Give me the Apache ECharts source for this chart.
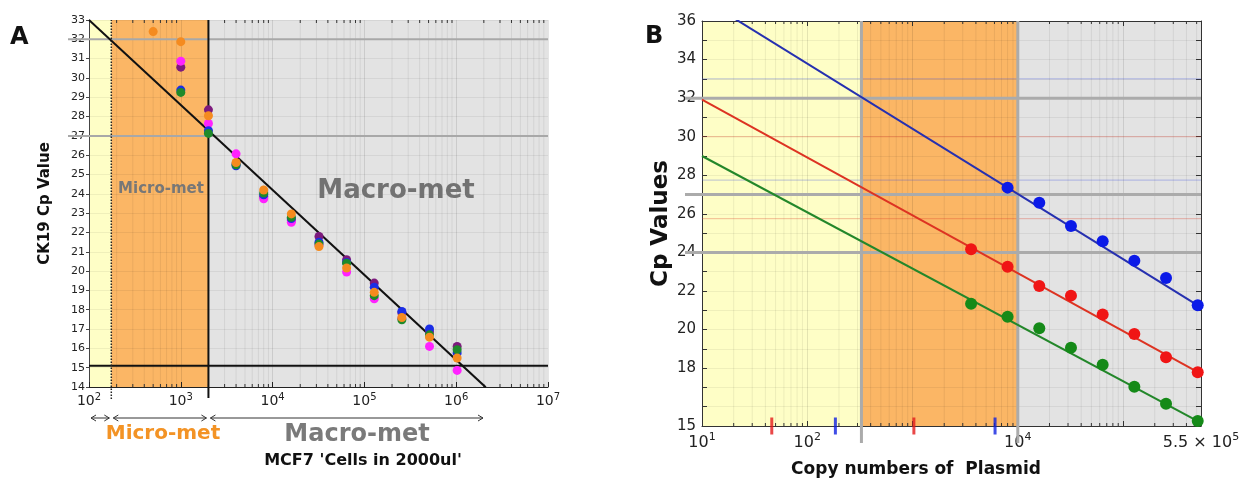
<!DOCTYPE html>
<html>
<head>
<meta charset="utf-8">
<script src="https://cdn.jsdelivr.net/npm/echarts@6/dist/echarts.min.js"></script>
<style>
  html, body { margin: 0; padding: 0; background: #fff; }
  #chart { width: 1244px; height: 482px; }
</style>
</head>
<body>
<div id="chart"></div>
<script>
// ---------- Panel A: CK19 Cp value vs MCF7 cells in 2000 ul ----------
const cellsA    = [500, 1000, 2000, 4000, 8000, 16000, 32000, 64000, 128000, 256000, 512000, 1024000];
const cpPurple  = [null, 30.56, 28.35, 25.55, 23.85, 22.65, 21.79, 20.59, 19.38, 17.85, 16.85, 16.10];
const cpMagenta = [null, 30.87, 27.64, 26.07, 23.74, 22.53, 21.35, 19.95, 18.57, 17.55, 16.10, 14.86];
const cpBlue    = [null, 29.37, 27.27, 25.45, 23.95, 22.72, 21.50, 20.45, 19.17, 17.91, 17.00, 15.76];
const cpGreen   = [null, 29.25, 27.13, 25.50, 24.04, 22.79, 21.40, 20.41, 18.73, 17.48, 16.70, 15.93];
const cpOrange  = [32.40, 31.88, 28.04, 25.62, 24.20, 22.96, 21.27, 20.16, 18.90, 17.60, 16.58, 15.50];

const fitA = { intercept: 41.8, slope: -4.4, from: 100, to: 2.1e6 };   // Cp = a + b*log10(cells)
const zoneEdgesA = [100, 175, 2000, 1e7];                                // yellow | orange | grey
const greyLevelsA = [32, 27];
const blackLevelsA = [15.1];
const dottedCutA = [175];
const solidCutA = [2000];

// ---------- Panel B: Cp values vs plasmid copy numbers ----------
const copiesB   = [3600, 8000, 16000, 32000, 64000, 128000, 256000, 512000];
const cpBlueB   = [null, 27.36, 26.58, 25.37, 24.58, 23.57, 22.68, 21.26];
const cpRedB    = [24.16, 23.26, 22.26, 21.76, 20.78, 19.77, 18.57, 17.79];
const cpGreenB  = [21.34, 20.67, 20.07, 19.06, 18.18, 17.04, 16.15, 15.26];

const fitInterceptB = [40.55, 34.92, 31.92];   // blue, red, green
const fitSlopeB     = [-3.38, -3.00, -2.92];
const zoneEdgesB = [10, 327, 10000, 5.5e5];
const greyLevelsB = [32, 27, 24];
const blueThinB = [33, 27.75];
const redThinB = [30, 25.75];
const greyCutsB = [327, 10000];
const redMarksB = [46, 1030];
const blueMarksB = [185, 6080];
const yLabelsB = [15, 18, 20, 22, 24, 26, 28, 30, 32, 34, 36];
const xLabelsB = [10, 100, 10000, 5.5e5];

const FONT = 'DejaVu Sans';
const zoneColors = ['#fefec6', '#fbb665', '#e3e3e3'];

function zip(xs, ys) {
  const out = [];
  xs.forEach((x, i) => { if (ys[i] != null) out.push([x, ys[i]]); });
  return out;
}
function minorLog(lo, hi) {
  const out = [];
  for (let e = Math.floor(Math.log10(lo)); e <= Math.ceil(Math.log10(hi)); e++) {
    for (let m = 2; m <= 9; m++) {
      const v = m * Math.pow(10, e);
      if (v > lo && v < hi) out.push([v]);
    }
  }
  return out;
}
function fitLine(a, b, x0, x1) {
  return [[x0, a + b * Math.log10(x0)], [x1, a + b * Math.log10(x1)]];
}
function supLabel(v) {
  const e = Math.round(Math.log10(v));
  return '{b|10}{s|' + e + '}';
}

function bands(ax, edges, yr) {
  const data = [];
  for (let i = 0; i < edges.length - 1; i++) data.push([edges[i], edges[i + 1]]);
  return {
    type: 'custom', xAxisIndex: ax, yAxisIndex: ax, z: 0, silent: true, data,
    renderItem: (p, api) => {
      const a = api.coord([api.value(0), yr[1]]);
      const b = api.coord([api.value(1), yr[0]]);
      return { type: 'rect', shape: { x: a[0], y: a[1], width: b[0] - a[0], height: b[1] - a[1] },
               style: { fill: zoneColors[p.dataIndex] } };
    }
  };
}
function vLines(ax, xs, yr, style, extBelow, z, tickLen) {
  return {
    type: 'custom', xAxisIndex: ax, yAxisIndex: ax, z: z, silent: true,
    data: xs.map(v => Array.isArray(v) ? v : [v]),
    renderItem: (p, api) => {
      const a = api.coord([api.value(0), yr[0]]);
      const b = api.coord([api.value(0), yr[1]]);
      const kids = [{ type: 'line', shape: { x1: a[0], y1: a[1] + extBelow, x2: b[0], y2: b[1] }, style: style }];
      if (tickLen) {
        kids.push({ type: 'line', shape: { x1: a[0], y1: a[1], x2: a[0], y2: a[1] - tickLen }, style: { stroke: '#333', lineWidth: 1 } });
        kids.push({ type: 'line', shape: { x1: b[0], y1: b[1], x2: b[0], y2: b[1] + tickLen }, style: { stroke: '#333', lineWidth: 1 } });
      }
      return { type: 'group', children: kids };
    }
  };
}
function hLines(ax, ys, xr, style, extLeft, z) {
  return {
    type: 'custom', xAxisIndex: ax, yAxisIndex: ax, z: z, silent: true,
    data: ys.map(v => [xr[0], v]),
    renderItem: (p, api) => {
      const a = api.coord([xr[0], api.value(1)]);
      const b = api.coord([xr[1], api.value(1)]);
      return { type: 'line', shape: { x1: a[0] - extLeft, y1: a[1], x2: b[0], y2: b[1] }, style: style };
    }
  };
}
function dots(ax, data, color, size, z) {
  return { type: 'scatter', xAxisIndex: ax, yAxisIndex: ax, data, symbolSize: size, z: z || 5,
           itemStyle: { color: color, opacity: 1 }, silent: true, clip: false };
}
function fitSeries(ax, data, color, width) {
  return { type: 'line', xAxisIndex: ax, yAxisIndex: ax, data, showSymbol: false, z: 4, clip: true,
           lineStyle: { color: color, width: width }, silent: true };
}

const yrA = [14, 33], xrA = [100, 1e7];
const yrB = [15, 36], xrB = [10, 5.5e5];

const option = {
  animation: false,
  backgroundColor: '#ffffff',
  textStyle: { fontFamily: FONT },
  grid: [
    { left: 89, top: 20, width: 459, height: 367 },
    { left: 702, top: 21, width: 499, height: 405 }
  ],
  xAxis: [
    { gridIndex: 0, type: 'log', logBase: 10, min: xrA[0], max: xrA[1], z: 1,
      axisLine: { show: true, lineStyle: { color: '#222', width: 1 } },
      axisTick: { show: true, inside: true, length: 5, lineStyle: { color: '#222' } },
      splitLine: { show: true, lineStyle: { color: 'rgba(0,0,0,0.10)', width: 1 } },
      axisLabel: { margin: 5, formatter: supLabel, color: '#222',
        rich: { b: { fontSize: 14, fontFamily: FONT, color: '#222' },
                s: { fontSize: 10, fontFamily: FONT, color: '#222', padding: [0, 0, 9, 0] } } } },
    { gridIndex: 1, type: 'log', logBase: 10, min: xrB[0], max: xrB[1], z: 1,
      axisLine: { show: true, lineStyle: { color: '#333', width: 1 } },
      axisTick: { show: true, inside: true, length: 5, lineStyle: { color: '#333' } },
      splitLine: { show: true, lineStyle: { color: 'rgba(0,0,0,0.10)', width: 1 } },
      axisLabel: { margin: 6, showMaxLabel: true, color: '#222',
        formatter: v => {
          const hit = xLabelsB.find(t => Math.abs(Math.log10(t) - Math.log10(v)) < 0.01);
          if (hit == null) return '';
          if (Math.abs(hit - 5.5e5) < 1) return '{b|5.5 \u00d7 10}{s|5}';
          return supLabel(hit);
        },
        rich: { b: { fontSize: 16, fontFamily: FONT, color: '#222' },
                s: { fontSize: 11, fontFamily: FONT, color: '#222', padding: [0, 0, 10, 0] } } } },
    { gridIndex: 1, type: 'log', logBase: 10, min: xrB[0], max: xrB[1], position: 'top', z: 1,
      axisLine: { show: true, lineStyle: { color: '#333', width: 1 } },
      axisTick: { show: true, inside: true, length: 5, lineStyle: { color: '#333' } },
      axisLabel: { show: false }, splitLine: { show: false } }
  ],
  yAxis: [
    { gridIndex: 0, type: 'value', min: yrA[0], max: yrA[1], interval: 1, z: 1,
      name: 'CK19 Cp Value', nameLocation: 'middle', nameGap: 36,
      nameTextStyle: { fontSize: 15, fontWeight: 'bold', color: '#111', fontFamily: FONT },
      axisLine: { show: true, lineStyle: { color: '#444', width: 1 } },
      axisTick: { show: true, inside: false, length: 3, lineStyle: { color: '#444' } },
      splitLine: { show: true, lineStyle: { color: 'rgba(0,0,0,0.06)', width: 1 } },
      axisLabel: { fontSize: 11, color: '#222', margin: 4 } },
    { gridIndex: 1, type: 'value', min: yrB[0], max: yrB[1], interval: 1, z: 1,
      name: 'Cp Values', nameLocation: 'middle', nameGap: 29,
      nameTextStyle: { fontSize: 23, fontWeight: 'bold', color: '#111', fontFamily: FONT },
      axisLine: { show: true, lineStyle: { color: '#333', width: 1 } },
      axisTick: { show: true, inside: true, length: 5, lineStyle: { color: '#333' } },
      splitLine: { show: true, lineStyle: { color: 'rgba(0,0,0,0.06)', width: 1 } },
      axisLabel: { fontSize: 15, color: '#222', margin: 6,
        formatter: v => (yLabelsB.indexOf(Math.round(v)) >= 0 ? String(Math.round(v)) : '') } },
    { gridIndex: 1, type: 'value', min: yrB[0], max: yrB[1], interval: 1, position: 'right', z: 1,
      axisLine: { show: true, lineStyle: { color: '#333', width: 1 } },
      axisTick: { show: true, inside: true, length: 5, lineStyle: { color: '#333' } },
      axisLabel: { show: false }, splitLine: { show: false } }
  ],
  series: [
    // Panel A
    bands(0, zoneEdgesA, yrA),
    vLines(0, minorLog(xrA[0], xrA[1]), yrA, { stroke: 'rgba(0,0,0,0.07)', lineWidth: 1 }, 0, 1, 3),
    hLines(0, greyLevelsA, xrA, { stroke: '#a8a8a8', lineWidth: 2 }, 21, 2),
    hLines(0, blackLevelsA, xrA, { stroke: '#111', lineWidth: 2 }, 0, 2),
    vLines(0, dottedCutA, yrA, { stroke: '#222', lineWidth: 1.5, lineDash: [1.5, 1.5] }, 12, 2, 0),
    vLines(0, solidCutA, yrA, { stroke: '#111', lineWidth: 2 }, 11, 2, 0),
    fitSeries(0, fitLine(fitA.intercept, fitA.slope, fitA.from, fitA.to), '#111', 2),
    dots(0, zip(cellsA, cpPurple), '#7d1a7d', 9),
    dots(0, zip(cellsA, cpMagenta), '#ff22ff', 9),
    dots(0, zip(cellsA, cpBlue), '#1b2ee6', 9),
    dots(0, zip(cellsA, cpGreen), '#1f8a2a', 9),
    dots(0, zip(cellsA, cpOrange), '#f58b1f', 9),

    // Panel B
    bands(1, zoneEdgesB, yrB),
    vLines(1, minorLog(xrB[0], xrB[1]), yrB, { stroke: 'rgba(0,0,0,0.07)', lineWidth: 1 }, 0, 1, 3),
    hLines(1, blueThinB, xrB, { stroke: 'rgba(60,80,220,0.35)', lineWidth: 1 }, 0, 2),
    hLines(1, redThinB, xrB, { stroke: 'rgba(220,60,40,0.35)', lineWidth: 1 }, 0, 2),
    hLines(1, greyLevelsB, xrB, { stroke: '#ababab', lineWidth: 3 }, 17, 2),
    vLines(1, greyCutsB, yrB, { stroke: '#ababab', lineWidth: 3 }, 17, 2, 0),
    fitSeries(1, fitLine(fitInterceptB[0], fitSlopeB[0], xrB[0], xrB[1]), '#2630b0', 2),
    fitSeries(1, fitLine(fitInterceptB[1], fitSlopeB[1], xrB[0], xrB[1]), '#dd3322', 2),
    fitSeries(1, fitLine(fitInterceptB[2], fitSlopeB[2], xrB[0], xrB[1]), '#23872a', 2),
    dots(1, zip(copiesB, cpBlueB), '#0b1ae8', 12),
    dots(1, zip(copiesB, cpRedB), '#f01515', 12),
    dots(1, zip(copiesB, cpGreenB), '#158a18', 12),
    { type: 'scatter', xAxisIndex: 1, yAxisIndex: 1, symbol: 'rect', symbolSize: [3, 17], clip: false, z: 6, silent: true,
      data: redMarksB.map(x => [x, yrB[0]]), itemStyle: { color: '#e41a1a' } },
    { type: 'scatter', xAxisIndex: 1, yAxisIndex: 1, symbol: 'rect', symbolSize: [3, 17], clip: false, z: 6, silent: true,
      data: blueMarksB.map(x => [x, yrB[0]]), itemStyle: { color: '#1020e0' } }
  ],
  graphic: [
    { type: 'text', left: 10, top: 26, style: { text: 'A', font: 'bold 24px "DejaVu Sans"', fill: '#111' } },
    { type: 'text', left: 645, top: 25, style: { text: 'B', font: 'bold 24px "DejaVu Sans"', fill: '#111' } },
    { type: 'text', x: 161, y: 189, style: { text: 'Micro-met', font: 'bold 15px "DejaVu Sans"', fill: '#777', align: 'center', verticalAlign: 'middle' }, z: 10 },
    { type: 'text', x: 396, y: 191, style: { text: 'Macro-met', font: 'bold 26px "DejaVu Sans"', fill: '#727272', align: 'center', verticalAlign: 'middle' }, z: 10 },
    { type: 'text', x: 163, y: 434, style: { text: 'Micro-met', font: 'bold 20px "DejaVu Sans"', fill: '#f39325', align: 'center', verticalAlign: 'middle' } },
    { type: 'text', x: 357, y: 435, style: { text: 'Macro-met', font: 'bold 24px "DejaVu Sans"', fill: '#7a7a7a', align: 'center', verticalAlign: 'middle' } },
    { type: 'text', x: 363, y: 461, style: { text: "MCF7 'Cells in 2000ul'", font: 'bold 16px "DejaVu Sans"', fill: '#111', align: 'center', verticalAlign: 'middle' } },
    { type: 'text', x: 916, y: 470, style: { text: 'Copy numbers of  Plasmid', font: 'bold 17px "DejaVu Sans"', fill: '#111', align: 'center', verticalAlign: 'middle' } }
  ]
};

const chart = echarts.init(document.getElementById('chart'));
chart.setOption(option);

// double-headed arrows under panel A spanning the detection zones
const arrowSpans = [[100, 175], [175, 2000], [2000, 2.06e6]];
const arrowY = 418;
const arrowEls = [];
arrowSpans.forEach(([a, b]) => {
  const x0 = chart.convertToPixel({ xAxisIndex: 0 }, a) + 2;
  const x1 = chart.convertToPixel({ xAxisIndex: 0 }, b) - 2;
  const st = { stroke: '#333', lineWidth: 1, fill: null };
  arrowEls.push({ type: 'line', shape: { x1: x0, y1: arrowY, x2: x1, y2: arrowY }, style: st });
  arrowEls.push({ type: 'polyline', shape: { points: [[x0 + 5, arrowY - 3], [x0, arrowY], [x0 + 5, arrowY + 3]] }, style: st });
  arrowEls.push({ type: 'polyline', shape: { points: [[x1 - 5, arrowY - 3], [x1, arrowY], [x1 - 5, arrowY + 3]] }, style: st });
});
chart.setOption({ graphic: option.graphic.concat(arrowEls) });
</script>
</body>
</html>
